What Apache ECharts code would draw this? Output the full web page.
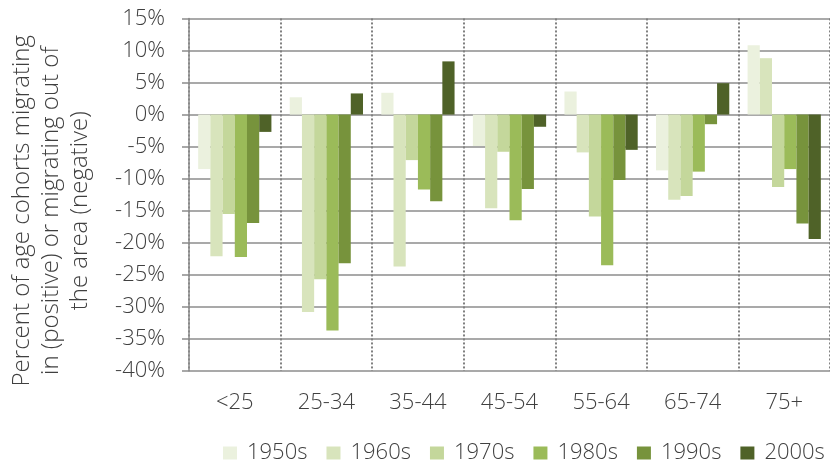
<!DOCTYPE html>
<html>
<head>
<meta charset="utf-8">
<script src="https://cdn.jsdelivr.net/npm/echarts@6/dist/echarts.min.js"></script>
<style>
  html, body { margin: 0; padding: 0; background: #fff; }
  #chart { width: 830px; height: 461px; }
</style>
</head>
<body>
<div id="chart"></div>
<script>
// age groups along x
const ageGroups = ['<25', '25-34', '35-44', '45-54', '55-64', '65-74', '75+'];

// percent migrating, one array per decade
const s1950 = [-8.5, 2.7, 3.4, -4.9, 3.6, -8.7, 10.8];
const s1960 = [-22.1, -30.8, -23.7, -14.6, -5.9, -13.3, 8.8];
const s1970 = [-15.5, -25.7, -7.1, -5.8, -15.9, -12.7, -11.3];
const s1980 = [-22.2, -33.7, -11.7, -16.5, -23.5, -8.9, -8.5];
const s1990 = [-16.9, -23.2, -13.5, -11.6, -10.2, -1.5, -17.0];
const s2000 = [-2.7, 3.3, 8.3, -1.9, -5.5, 4.9, -19.4];

const decades = ['1950s', '1960s', '1970s', '1980s', '1990s', '2000s'];
const colors = ['#EBF1DE', '#D8E4BC', '#C4D79B', '#9BBB59', '#77933C', '#4F6228'];

const font = '"Open Sans", sans-serif';
const textColor = '#404040';

var chart = echarts.init(document.getElementById('chart'));

var series = [s1950, s1960, s1970, s1980, s1990, s2000].map(function (vals, i) {
  return {
    name: decades[i],
    type: 'bar',
    data: vals,
    barGap: '0%',
    barCategoryGap: '20%',
    itemStyle: { color: colors[i] }
  };
});

var option = {
  animation: false,
  color: colors,
  textStyle: { fontFamily: font },
  grid: { left: 189, right: -3, top: 17, bottom: 90 },
  legend: {
    data: decades,
    left: 223,
    top: 442,
    width: 700,
    padding: 0,
    itemWidth: 14,
    itemHeight: 13,
    itemGap: 19,
    icon: 'rect',
    textStyle: { fontSize: 22, fontWeight: 300, color: textColor, fontFamily: font, padding: [0, 0, 0, 5] }
  },
  xAxis: {
    type: 'category',
    data: ageGroups,
    axisLine: { show: false },
    axisTick: { show: false },
    axisLabel: { fontSize: 22, fontWeight: 300, color: textColor, margin: 21, fontFamily: font },
    splitLine: { show: true, lineStyle: { color: '#808080', type: 'dotted', width: 2 } }
  },
  yAxis: {
    type: 'value',
    min: -40,
    max: 15,
    interval: 5,
    name: 'Percent of age cohorts migrating\nin (positive) or migrating out of\nthe area (negative)',
    nameLocation: 'middle',
    nameRotate: 90,
    nameGap: 94,
    nameTextStyle: { fontSize: 24, fontWeight: 300, color: textColor, lineHeight: 29, align: 'center', fontFamily: font, padding: [0, 32, 0, 0] },
    axisLine: { show: true, lineStyle: { color: '#8c8c8c', width: 1.5 } },
    axisTick: { show: true, length: 7, lineStyle: { color: '#8c8c8c', width: 1.5 } },
    axisLabel: { fontSize: 22, fontWeight: 300, color: textColor, margin: 24, fontFamily: font, formatter: '{value}%' },
    splitLine: { lineStyle: { color: '#8c8c8c', width: 1.5 } }
  },
  series: series
};

chart.setOption(option);
</script>
</body>
</html>
